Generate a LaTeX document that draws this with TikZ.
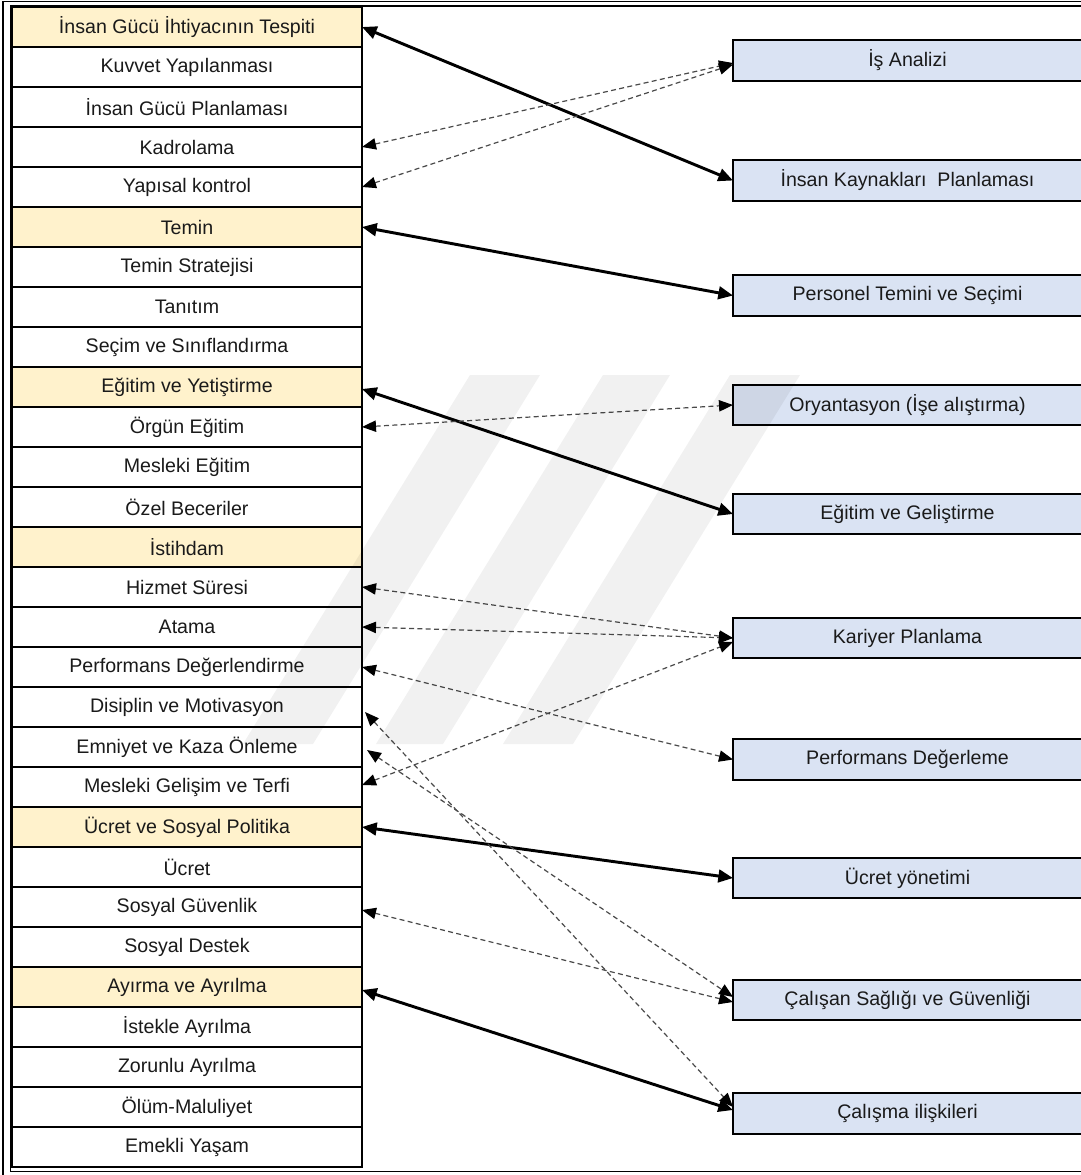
\documentclass[tikz,border=0pt]{standalone}
\usepackage{fontspec}
\setmainfont{Liberation Sans}
\usetikzlibrary{arrows.meta,calc}
\definecolor{hdr}{HTML}{FFF2CC}
\definecolor{rbox}{HTML}{DAE3F3}
\definecolor{dashc}{HTML}{4A4A4A}
\definecolor{txt}{HTML}{1A1A1A}
\begin{document}
\begin{tikzpicture}[x=0.75pt,y=-0.75pt,
  rowbox/.style={draw=black,line width=1.5pt,minimum width=262.5pt,minimum height=30pt,
    inner sep=0pt,outer sep=0pt,font=\fontsize{14.7}{16}\selectfont,text=txt},
  hrow/.style={rowbox,fill=hdr},
  rbox/.style={draw=black,line width=1.2pt,fill=rbox,minimum width=261.75pt,minimum height=30.4pt,
    inner sep=0pt,outer sep=0pt,font=\fontsize{14.7}{16}\selectfont,text=txt},
  solidarr/.style={draw=black,line width=2.2pt,
    {Triangle[length=11pt,width=9.5pt]}-{Triangle[length=11pt,width=9.5pt]}},
  dasharr/.style={draw=dashc,line width=0.9pt,dash pattern=on 3.75pt off 2.5pt,
    {Triangle[length=10.5pt,width=8.5pt,black]}-{Triangle[length=10.5pt,width=8.5pt,black]}},
  frameline/.style={draw=black,line width=1.2pt},
  wmark/.style={fill=black,fill opacity=0.055}
]
\useasboundingbox (0,0) rectangle (1081,1175);
\clip (0,0) rectangle (1081,1175);
\fill[white] (0,0) rectangle (1081,1175);

% frame (double line)
\draw[frameline] (3,1.5) rectangle (1095,1185);
\draw[frameline] (10.5,6) rectangle (1090,1171.5);

% left list
\foreach \t/\s [count=\i] in {
  {İnsan Gücü İhtiyacının Tespiti}/hrow,
  {Kuvvet Yapılanması}/rowbox,
  {İnsan Gücü Planlaması}/rowbox,
  {Kadrolama}/rowbox,
  {Yapısal kontrol}/rowbox,
  {Temin}/hrow,
  {Temin Stratejisi}/rowbox,
  {Tanıtım}/rowbox,
  {Seçim ve Sınıflandırma}/rowbox,
  {Eğitim ve Yetiştirme}/hrow,
  {Örgün Eğitim}/rowbox,
  {Mesleki Eğitim}/rowbox,
  {Özel Beceriler}/rowbox,
  {İstihdam}/hrow,
  {Hizmet Süresi}/rowbox,
  {Atama}/rowbox,
  {Performans Değerlendirme}/rowbox,
  {Disiplin ve Motivasyon}/rowbox,
  {Emniyet ve Kaza Önleme}/rowbox,
  {Mesleki Gelişim ve Terfi}/rowbox,
  {Ücret ve Sosyal Politika}/hrow,
  {Ücret}/rowbox,
  {Sosyal Güvenlik}/rowbox,
  {Sosyal Destek}/rowbox,
  {Ayırma ve Ayrılma}/hrow,
  {İstekle Ayrılma}/rowbox,
  {Zorunlu Ayrılma}/rowbox,
  {Ölüm-Maluliyet}/rowbox,
  {Emekli Yaşam}/rowbox}
{
  \node[\s] (r\i) at (187,{27+40*(\i-1)}) {\t};
}

% right boxes
\node[rbox] (b1) at (907.5,60.5) {İş Analizi};
\node[rbox] (b2) at (907.5,180.5) {İnsan Kaynakları~ Planlaması};
\node[rbox] (b3) at (907.5,295.5) {Personel Temini ve Seçimi};
\node[rbox] (b4) at (907.5,405) {Oryantasyon (İşe alıştırma)};
\node[rbox] (b5) at (907.5,514) {Eğitim ve Geliştirme};
\node[rbox] (b6) at (907.5,638) {Kariyer Planlama};
\node[rbox] (b7) at (907.5,759.5) {Performans Değerleme};
\node[rbox] (b8) at (907.5,878) {Ücret yönetimi};
\node[rbox] (b9) at (907.5,1000) {Çalışan Sağlığı ve Güvenliği};
\node[rbox] (b10) at (907.5,1113.5) {Çalışma ilişkileri};

% solid connectors
\draw[solidarr] (r1.east) -- (b2.west);
\draw[solidarr] (r6.east) -- (b3.west);
\draw[solidarr] ($(r10.east)+(0,2)$) -- (b5.west);
\draw[solidarr] (r21.east) -- (b8.west);
\draw[solidarr] ($(r25.east)+(0,3)$) -- ($(b10.west)+(0,-3.5)$);

% dashed connectors
\draw[dasharr] (r4.east) -- ($(b1.west)+(0,2.5)$);
\draw[dasharr] (r5.east) -- ($(b1.west)+(0,4)$);
\draw[dasharr] (r11.east) -- (b4.west);
\draw[dasharr] (r15.east) -- (b6.west);
\draw[dasharr] (r16.east) -- (b6.west);
\draw[dasharr] (r17.east) -- (b7.west);
\draw[dasharr] ($(r20.east)+(0,-2)$) -- ($(b6.west)+(0,4)$);
\draw[dasharr] ($(r18.east)+(3,5)$) -- ($(b10.west)+(0,-6.5)$);
\draw[dasharr] ($(r19.east)+(5,3)$) -- ($(b9.west)+(0,-3)$);
\draw[dasharr] ($(r23.east)+(0,3)$) -- ($(b9.west)+(0,2)$);

% faint watermark stripes
\fill[wmark] (470,375) -- (540,375) -- (313,744) -- (243,744) -- cycle;
\fill[wmark] (603,375) -- (670,375) -- (443,744) -- (376,744) -- cycle;
\fill[wmark] (730,375) -- (800,375) -- (573,744) -- (503,744) -- cycle;
\end{tikzpicture}
\end{document}
